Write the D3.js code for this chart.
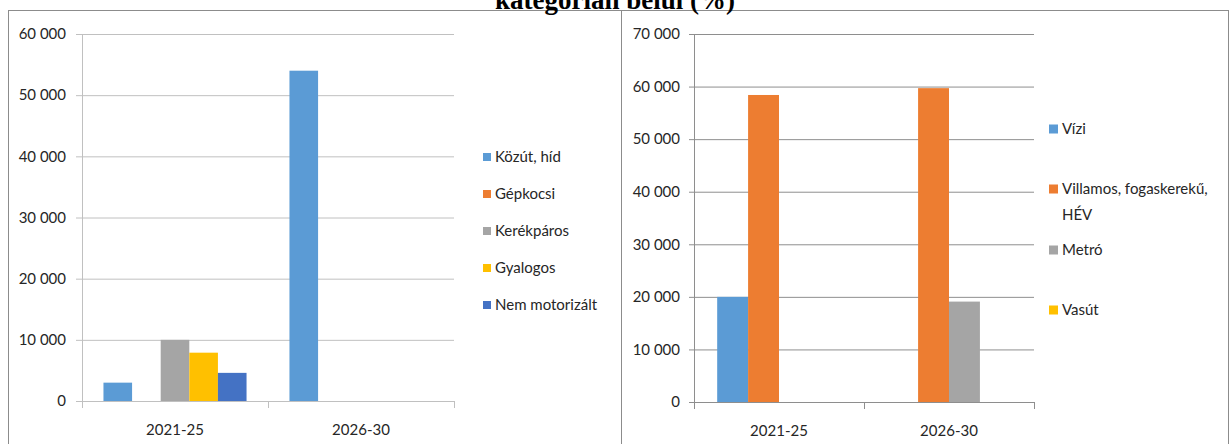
<!DOCTYPE html>
<html>
<head>
<meta charset="utf-8">
<script src="https://cdn.jsdelivr.net/npm/d3@7"></script>
<style>
  body { margin: 0; background: #fff; }
  svg { display: block; }
  text { font-family: Lato, "Open Sans", sans-serif; fill: #262626; }
</style>
</head>
<body>
<svg id="chart" width="1230" height="444"></svg>
<script>
// two clustered column charts side by side, Excel style

let categories = ["2021-25", "2026-30"];

let leftSeries = ["Közút, híd", "Gépkocsi", "Kerékpáros", "Gyalogos", "Nem motorizált"];
let leftValues = [
  [3000, 54000],
  [0, 0],
  [10000, 0],
  [7900, 0],
  [4600, 0]
];
let leftTicks = [0, 10000, 20000, 30000, 40000, 50000, 60000];

let rightSeries = ["Vízi", "Villamos, fogaskerekű, HÉV", "Metró", "Vasút"];
let rightValues = [
  [20000, 0],
  [58400, 59700],
  [0, 19100],
  [0, 0]
];
let rightTicks = [0, 10000, 20000, 30000, 40000, 50000, 60000, 70000];

let colors = ["#5b9bd5", "#ed7d31", "#a5a5a5", "#ffc000", "#4472c4"];

let svg = d3.select("#chart");

// numbers like "60 000"
let fmt = function(v) {
  return d3.format(",")(v).replace(/,/g, " ");
};

// frames
svg.append("rect")
  .attr("x", 8.5).attr("y", 10.5)
  .attr("width", 613).attr("height", 450)
  .attr("fill", "none").attr("stroke", "#8c8c8c");
svg.append("rect")
  .attr("x", 621.5).attr("y", 10.5)
  .attr("width", 607).attr("height", 450)
  .attr("fill", "none").attr("stroke", "#8c8c8c");

// title, its top half falls outside the page like in the source
svg.append("text")
  .attr("x", 615).attr("y", 9)
  .attr("text-anchor", "middle")
  .style("font-family", "'Liberation Serif', serif")
  .style("font-weight", "bold")
  .style("font-size", "27px")
  .style("fill", "#000")
  .text("kategórián belül (%)");

function drawChart(opts) {
  let g = svg.append("g");

  let x0 = d3.scaleBand()
    .domain(categories)
    .range([opts.left, opts.right]);

  // Excel gap width 150%: band = n bars + 1.5 bars
  let n = opts.series.length;
  let bw = x0.bandwidth() / (n + 1.5);
  let x1 = d3.scaleBand()
    .domain(d3.range(n))
    .range([0.75 * bw, 0.75 * bw + n * bw]);

  let y = d3.scaleLinear()
    .domain([0, d3.max(opts.ticks)])
    .range([opts.bottom, opts.top]);

  // gridlines + y labels
  let yAxis = g.append("g")
    .attr("transform", "translate(" + opts.left + ",0)")
    .call(d3.axisLeft(y)
      .tickValues(opts.ticks)
      .tickSize(opts.left - opts.right)
      .tickPadding(opts.labelGap)
      .tickFormat(fmt));
  yAxis.select(".domain").remove();
  yAxis.selectAll(".tick line")
    .attr("x1", -opts.tickOut)
    .attr("stroke", opts.gridColor);
  yAxis.selectAll(".tick text")
    .attr("x", -opts.tickOut - opts.labelGap)
    .style("font-size", "15px")
    .style("font-family", "Lato, sans-serif");

  // bars
  let data = [];
  opts.series.forEach(function(s, i) {
    categories.forEach(function(c, j) {
      data.push({ s: i, cat: c, v: opts.values[i][j] });
    });
  });
  g.selectAll("rect.bar")
    .data(data.filter(function(d) { return d.v > 0; }))
    .enter().append("rect")
      .attr("class", "bar")
      .attr("x", function(d) { return x0(d.cat) + x1(d.s); })
      .attr("width", x1.bandwidth())
      .attr("y", function(d) { return y(d.v); })
      .attr("height", function(d) { return y(0) - y(d.v); })
      .attr("fill", function(d) { return colors[d.s]; });

  // y axis line
  g.append("line")
    .attr("x1", opts.left + 0.5).attr("x2", opts.left + 0.5)
    .attr("y1", opts.top).attr("y2", opts.bottom + 7)
    .attr("stroke", opts.axisColor);

  // x axis line with ticks between categories
  g.append("line")
    .attr("x1", opts.left).attr("x2", opts.right)
    .attr("y1", opts.bottom + 0.5).attr("y2", opts.bottom + 0.5)
    .attr("stroke", opts.axisColor);
  let bounds = categories.map(function(c) { return x0(c); }).concat([opts.right]);
  g.selectAll("line.xtick")
    .data(bounds.slice(1))
    .enter().append("line")
      .attr("class", "xtick")
      .attr("x1", function(d) { return Math.round(d) + 0.5; })
      .attr("x2", function(d) { return Math.round(d) + 0.5; })
      .attr("y1", opts.bottom)
      .attr("y2", opts.bottom + 7)
      .attr("stroke", opts.axisColor);

  g.selectAll("text.cat")
    .data(categories)
    .enter().append("text")
      .attr("class", "cat")
      .attr("x", function(d) { return x0(d) + x0.bandwidth() / 2; })
      .attr("y", opts.bottom + 34)
      .attr("text-anchor", "middle")
      .style("font-size", "15px")
      .text(function(d) { return d; });

  // legend
  let lg = g.selectAll("g.legend")
    .data(opts.series)
    .enter().append("g")
      .attr("class", "legend")
      .attr("transform", function(d, i) {
        return "translate(" + opts.legendX + "," + opts.legendY[i] + ")";
      });
  lg.append("rect")
    .attr("x", 0).attr("y", -opts.sq / 2)
    .attr("width", opts.sq).attr("height", opts.sq)
    .attr("fill", function(d, i) { return colors[i]; });
  lg.append("text")
    .attr("x", opts.sq + 4)
    .style("font-size", "15px")
    .each(function(d) {
      let t = d3.select(this);
      let lines = opts.wrap[d] || [d];
      lines.forEach(function(l, k) {
        t.append("tspan")
          .attr("x", opts.sq + 4)
          .attr("dy", k === 0 ? "0.35em" : "26px")
          .text(l);
      });
    });
}

drawChart({
  series: leftSeries,
  values: leftValues,
  ticks: leftTicks,
  left: 82, right: 454, top: 34, bottom: 401,
  tickOut: 6, labelGap: 10,
  gridColor: "#c0c0c0", axisColor: "#c0c0c0",
  legendX: 483, legendY: [157, 194, 231, 268, 305], sq: 8,
  wrap: {}
});

drawChart({
  series: rightSeries,
  values: rightValues,
  ticks: rightTicks,
  left: 694, right: 1034, top: 34, bottom: 402,
  tickOut: 5, labelGap: 9,
  gridColor: "#8e8e8e", axisColor: "#8e8e8e",
  legendX: 1049, legendY: [129, 189, 250, 310], sq: 9,
  wrap: { "Villamos, fogaskerekű, HÉV": ["Villamos, fogaskerekű,", "HÉV"] }
});
</script>
</body>
</html>
